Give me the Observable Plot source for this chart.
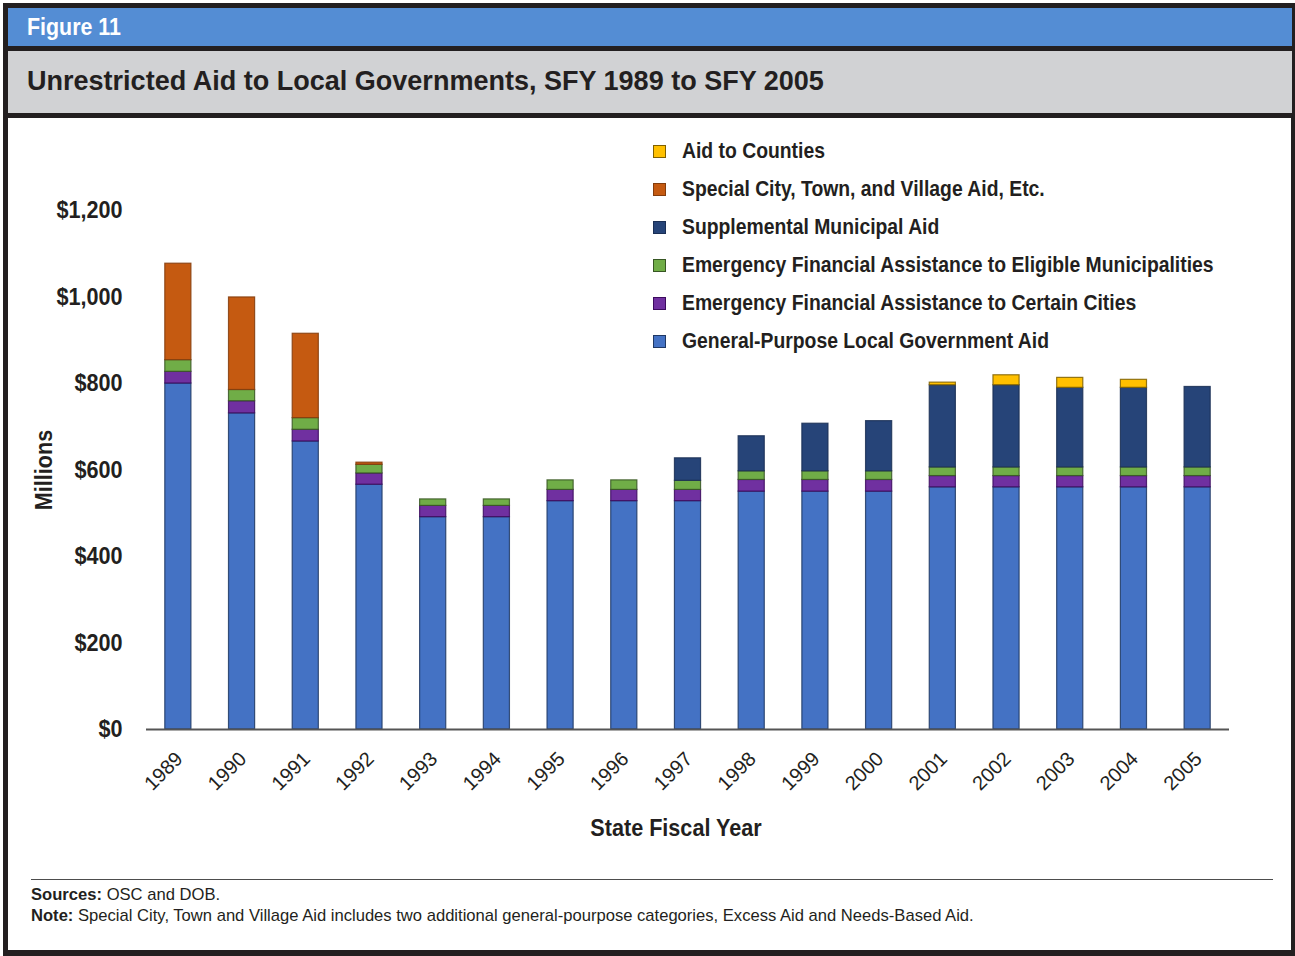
<!DOCTYPE html>
<html>
<head>
<meta charset="utf-8">
<script src="https://cdn.jsdelivr.net/npm/d3@7"></script>
<script src="https://cdn.jsdelivr.net/npm/@observablehq/plot@0.6"></script>
<style>
  html, body { margin: 0; padding: 0; background: #fff; }
  #page { position: relative; width: 1295px; height: 956px; overflow: hidden; background: #fff; }
  .bold { font-family: "Liberation Sans", Arial, sans-serif; font-weight: bold; }
  .cond { display: inline-block; transform: scaleX(0.9); transform-origin: 0 50%; }
  #outer { position: absolute; left: 3px; top: 3px; width: 1292px; height: 953px; background: #231f20; }
  #blue { position: absolute; left: 8px; top: 8px; width: 1284px; height: 38px; background: #548dd4; }
  #gray { position: absolute; left: 8px; top: 51px; width: 1284px; height: 62px; background: #d1d2d4; }
  #white { position: absolute; left: 8px; top: 118px; width: 1283px; height: 832px; background: #fff; }
  #fig { position: absolute; left: 19px; top: 2px; font-size: 23px; color: #fff; line-height: 34px; white-space: nowrap; transform: scaleX(0.93); transform-origin: 0 50%; }
  #title { position: absolute; left: 19px; top: 10px; font-size: 28px; color: #231f20; line-height: 40px; white-space: nowrap; transform: scaleX(0.965); transform-origin: 0 50%; }
  #chart { position: absolute; left: 0; top: 0; }
  #legend { position: absolute; left: 645px; top: 20px; }
  .li { position: absolute; left: 0; white-space: nowrap; font-size: 21.5px; color: #231f20; line-height: 26px; }
  .sw { position: absolute; left: 0; top: 7px; width: 11px; height: 11px; border: 1px solid; }
  .lt { position: absolute; left: 29px; top: 0; }
  #xlabel { position: absolute; left: 668px; top: 695px; width: 0; font-size: 24px; color: #231f20; white-space: nowrap; line-height: 30px; }
  #xlabel span { position: absolute; left: 0; transform: translateX(-50%) scaleX(0.9); }
  #rule { position: absolute; left: 23px; top: 761px; width: 1242px; height: 0; border-top: 1.5px solid #4d4d4d; }
  .foot { position: absolute; left: 23px; font-family: "Liberation Sans", Arial, sans-serif; font-size: 16.6px; color: #231f20; white-space: nowrap; line-height: 20px; }
</style>
</head>
<body>
<div id="page">
  <div id="outer"></div>
  <div id="blue"><div id="fig" class="bold">Figure 11</div></div>
  <div id="gray"><div id="title" class="bold">Unrestricted Aid to Local Governments, SFY 1989 to SFY 2005</div></div>
  <div id="white">
    <div id="chart"></div>
    <div id="legend"></div>
    <div id="xlabel" class="bold"><span>State Fiscal Year</span></div>
    <div id="rule"></div>
    <div class="foot" style="top:767px"><b>Sources:</b> OSC and DOB.</div>
    <div class="foot" style="top:788px"><b>Note:</b> Special City, Town and Village Aid includes two additional general-pourpose categories, Excess Aid and Needs-Based Aid.</div>
  </div>
</div>
<script>
// ---- data (millions of dollars) ----
const years = [1989,1990,1991,1992,1993,1994,1995,1996,1997,1998,1999,2000,2001,2002,2003,2004,2005];
const generalPurposeAid   = [800,731,666,566,491,491,528,528,528,550,550,550,560,560,560,560,560];
const certainCitiesAid    = [27,28,27,26,26,26,26,26,26,27,27,27,26,26,26,26,26];
const eligibleMunisAid    = [27,26,27,20,15,15,22,22,21,20,20,20,20,20,20,20,20];
const supplementalAid     = [0,0,0,0,0,0,0,0,52,81,110,116,190,190,184,184,186];
const specialCTVAid       = [223,214,195,5,0,0,0,0,0,0,0,0,0,0,0,0,0];
const countiesAid         = [0,0,0,0,0,0,0,0,0,0,0,0,6,23,23,18.5,0];
const yTicks = [0,200,400,600,800,1000,1200];

const seriesNames = [
  "General-Purpose Local Government Aid",
  "Emergency Financial Assistance to Certain Cities",
  "Emergency Financial Assistance to Eligible Municipalities",
  "Supplemental Municipal Aid",
  "Special City, Town, and Village Aid, Etc.",
  "Aid to Counties"
];
const seriesValues = [generalPurposeAid, certainCitiesAid, eligibleMunisAid, supplementalAid, specialCTVAid, countiesAid];
const fills   = ["#4472c4", "#7030a0", "#70ad47", "#264478", "#c55a11", "#ffc000"];
const strokes = ["#1f3864", "#3c0a5e", "#375623", "#1a2f55", "#843c0c", "#7f6000"];

const rows = [];
seriesNames.forEach((s, i) => {
  years.forEach((y, j) => rows.push({year: String(y), series: s, idx: i, value: seriesValues[i][j]}));
});

const sans = '"Liberation Sans", Arial, sans-serif';

const plot = Plot.plot({
  width: 1283,
  height: 752,
  marginLeft: 138,
  marginRight: 62,
  marginTop: 92,
  marginBottom: 141,
  style: {background: "transparent", color: "#231f20"},
  x: {domain: years.map(String), paddingInner: 0.59, paddingOuter: 0.295, round: false, label: null},
  y: {domain: [0, 1200], label: null},
  color: {type: "identity"},
  marks: [
    Plot.barY(rows, {
      x: "year", y: "value",
      order: d => d.idx,
      fill: d => fills[d.idx],
      stroke: d => strokes[d.idx],
      strokeWidth: 1.2,
      strokeOpacity: 0.85,
      inset: 0
    }),
    Plot.ruleY([0], {stroke: "#555", strokeWidth: 2}),
    Plot.axisY({
      ticks: yTicks, tickSize: 0, tickPadding: 24,
      tickFormat: d => "$" + d3.format(",")(d),
      fontSize: 24, fontWeight: "bold", fontFamily: sans,
      label: "Millions", labelAnchor: "center", labelArrow: "none", labelOffset: 112
    }),
    Plot.axisX({
      tickRotate: -45, tickSize: 0, tickPadding: 26, dx: 1,
      fontSize: 20, fontFamily: sans,
      label: null
    })
  ]
});
document.getElementById("chart").appendChild(plot);

// condense the bold chart texts (the original uses a narrow typeface)
plot.querySelectorAll('g[font-weight="bold"] text').forEach(t => {
  const w = t.getComputedTextLength();
  t.setAttribute("textLength", (w * 0.9).toFixed(1));
  t.setAttribute("lengthAdjust", "spacingAndGlyphs");
});

// ---- legend (top entry = top of stack) ----
const legend = document.getElementById("legend");
const order = [5, 4, 3, 2, 1, 0];
order.forEach((i, k) => {
  const li = document.createElement("div");
  li.className = "li bold";
  li.style.top = (k * 38) + "px";
  li.innerHTML = `<span class="sw" style="background:${fills[i]};border-color:${strokes[i]}"></span><span class="lt cond">${seriesNames[i]}</span>`;
  legend.appendChild(li);
});
</script>
</body>
</html>
